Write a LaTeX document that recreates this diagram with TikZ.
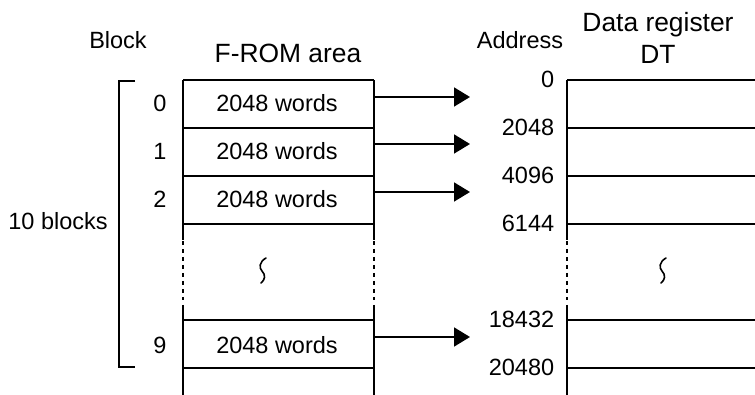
\documentclass[tikz,border=0pt]{standalone}
\usepackage{fontspec}
\setmainfont{Liberation Sans}
\usetikzlibrary{arrows.meta}
\begin{document}
\begin{tikzpicture}[x=1pt,y=-1pt, line width=1.7pt,
 lbl/.style={font=\fontsize{23.5}{28}\selectfont, inner sep=0pt, anchor=base},
 hdr/.style={font=\fontsize{26.4}{31}\selectfont, inner sep=0pt, anchor=base},
 addr/.style={lbl, anchor=base east},
 arr/.style={-{Triangle[length=16pt,width=19pt]}, line width=1.7pt},
 dsh/.style={dash pattern=on 4pt off 4pt},
 sq/.style={line width=1.6pt, line cap=round}]
\useasboundingbox (0,0) rectangle (755,395);

% headers
\node[lbl] (blk) at (118,49) {Block};
\node[hdr] (from) at (288,63) {F-ROM area};
\node[lbl] (addrh) at (520,49) {Address};
\node[hdr] (dr1) at (658,32) {Data register};
\node[hdr] (dr2) at (658,64) {DT};

% F-ROM column
\foreach \y in {80,128,176,224,320,368} \draw (183,\y) -- (374,\y);
\foreach \x in {183,374} {
  \draw (\x,80) -- (\x,240);
  \draw[dsh] (\x,241) -- (\x,300);
  \draw (\x,305) -- (\x,395);
}
% DT column
\foreach \y in {80,128,176,224,320,368} \draw (567,\y) -- (755,\y);
\draw (567,80) -- (567,240);
\draw[dsh] (567,241) -- (567,300);
\draw (567,305) -- (567,395);

% block numbers and contents
\node[lbl] (b0) at (160,112) {0};
\node[lbl] (b1) at (160,160) {1};
\node[lbl] (b2) at (160,208) {2};
\node[lbl] (b9) at (160,353) {9};
\node[lbl] (w0) at (277,112) {2048 words};
\node[lbl] (w1) at (277,160) {2048 words};
\node[lbl] (w2) at (277,208) {2048 words};
\node[lbl] (w9) at (277,353) {2048 words};

% bracket
\coordinate (bt) at (135,81);
\coordinate (bb) at (135,367);
\draw (bt) -- (119,81) -- (119,367) -- (bb);
\node[lbl] (tenb) at (58,230) {10 blocks};

% squiggles
\draw[sq] (266,258) .. controls (259,262) and (259,268) .. (262,271) .. controls (266,275) and (265,280) .. (261,283);
\draw[sq] (666,258) .. controls (659,262) and (659,268) .. (662,271) .. controls (666,275) and (665,280) .. (661,283);

% addresses
\node[addr] (a0) at (555,87.5) {0};
\node[addr] (a1) at (555,135.5) {2048};
\node[addr] (a2) at (555,183.5) {4096};
\node[addr] (a3) at (555,231.5) {6144};
\node[addr] (a9) at (555,327.5) {18432};
\node[addr] (a10) at (555,375.5) {20480};

% arrows
\foreach \n/\y in {0/97,1/144,2/192,9/337} {
  \coordinate (s\n) at (374,\y);
  \coordinate (e\n) at (470,\y);
  \draw[arr] (s\n) -- (e\n);
}
\end{tikzpicture}
\end{document}
